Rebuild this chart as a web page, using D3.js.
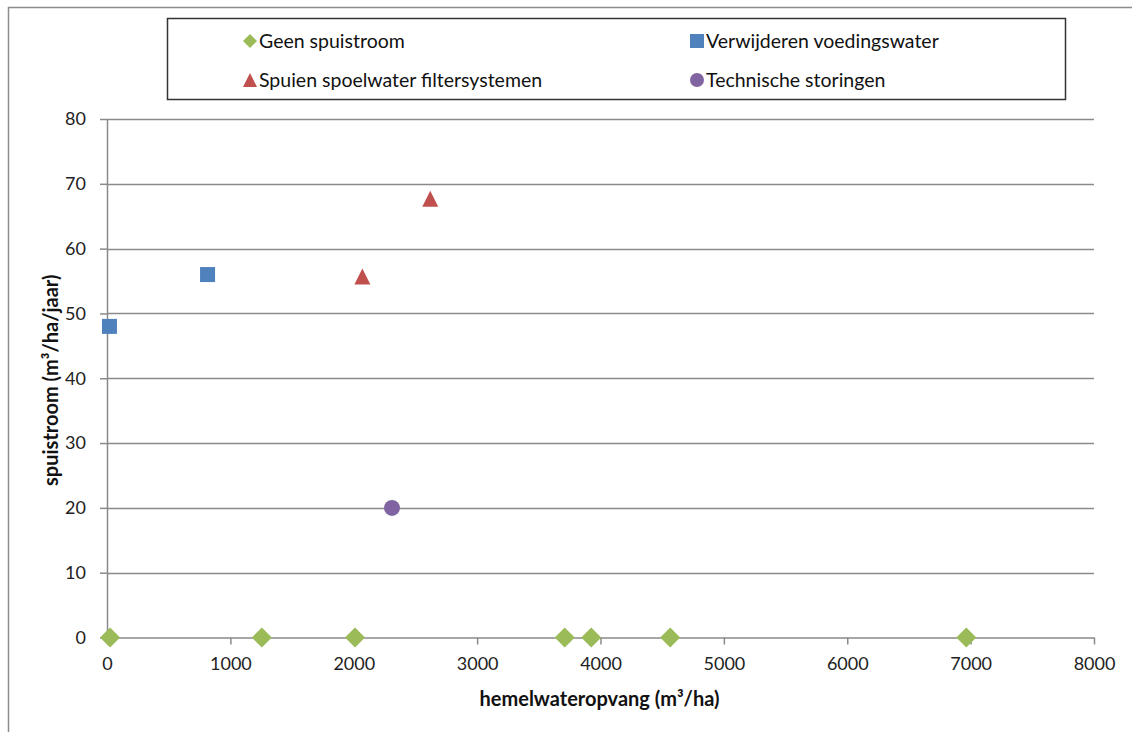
<!DOCTYPE html>
<html><head><meta charset="utf-8">
<script src="https://cdn.jsdelivr.net/npm/d3@7"></script>
<style>body{margin:0;background:#fff}svg{display:block}</style>
</head><body>
<svg id="c" width="1132" height="732"></svg>
<script>
const seriesNames = ["Geen spuistroom","Verwijderen voedingswater","Spuien spoelwater filtersystemen","Technische storingen"];
const seriesColors = ["#9BBB59","#4F81BD","#C0504D","#8064A2"];
const seriesShapes = ["diamond","square","triangle","circle"];
const geenX = [25,1255,2010,3710,3925,4565,6965];
const geenY = [0,0,0,0,0,0,0];
const verwX = [20,815];
const verwY = [48,56];
const spuiX = [2070,2620];
const spuiY = [55.7,67.7];
const techX = [2310];
const techY = [20];
const xTicks = [0,1000,2000,3000,4000,5000,6000,7000,8000];
const yTicks = [0,10,20,30,40,50,60,70,80];
const xTitle = "hemelwateropvang (m³/ha)";
const yTitle = "spuistroom (m³/ha/jaar)";

const series = [
  {x:geenX,y:geenY},{x:verwX,y:verwY},{x:spuiX,y:spuiY},{x:techX,y:techY}
];

const svg = d3.select("#c");
const font = "Lato, 'Open Sans', sans-serif";
const L=107,R=1094,T=119,B=637.5;
const x = d3.scaleLinear().domain([0,8000]).range([L,R]);
const y = d3.scaleLinear().domain([0,80]).range([B,T]);

// outer border
svg.append("path").attr("d","M8.5,732 V7.5 H1132").attr("fill","none").attr("stroke","#8c8c8c").attr("stroke-width",1.5);

// gridlines
svg.append("g").selectAll("line").data(yTicks.filter(d=>d>0)).join("line")
  .attr("x1",L).attr("x2",R).attr("y1",d=>Math.round(y(d))+0.5).attr("y2",d=>Math.round(y(d))+0.5)
  .attr("stroke","#8a8a8a").attr("stroke-width",1.5);

// y axis
const ya = svg.append("g").attr("transform",`translate(${L},0)`).call(d3.axisLeft(y).tickValues(yTicks).tickFormat(d3.format("d")).tickSize(7).tickPadding(14).tickSizeOuter(0));
ya.select(".domain").attr("stroke","#8a8a8a").attr("stroke-width",1.5);
ya.selectAll(".tick line").attr("stroke","#8a8a8a").attr("stroke-width",1.5);
ya.selectAll("text").attr("font-family",font).attr("font-size",18).attr("fill","#222");

// x axis
const xa = svg.append("g").attr("transform",`translate(0,${B})`).call(d3.axisBottom(x).tickValues(xTicks).tickFormat(d3.format("d")).tickSize(7).tickPadding(13).tickSizeOuter(0));
xa.select(".domain").attr("stroke","#8a8a8a").attr("stroke-width",1.5);
xa.selectAll(".tick line").attr("stroke","#8a8a8a").attr("stroke-width",1.5);
xa.selectAll("text").attr("font-family",font).attr("font-size",18).attr("fill","#222");

// titles
svg.append("text").attr("x",(L+R)/2-1).attr("y",706).attr("text-anchor","middle")
  .attr("font-family",font).attr("font-weight","bold").attr("font-size",20).attr("fill","#111").text(xTitle);
svg.append("text").attr("transform",`translate(58,${(T+B)/2+2}) rotate(-90)`).attr("text-anchor","middle")
  .attr("font-family",font).attr("font-weight","bold").attr("font-size",20).attr("fill","#111").text(yTitle);

function drawMarker(g, shape, color, cx, cy, h){
  let el;
  if(shape==="diamond"){
    el=g.append("path").attr("d",`M${cx},${cy-h} L${cx+h},${cy} L${cx},${cy+h} L${cx-h},${cy} Z`);
  } else if(shape==="square"){
    el=g.append("rect").attr("x",cx-h).attr("y",cy-h).attr("width",2*h).attr("height",2*h);
  } else if(shape==="triangle"){
    el=g.append("path").attr("d",`M${cx},${cy-h} L${cx+h},${cy+h} L${cx-h},${cy+h} Z`);
  } else {
    el=g.append("circle").attr("cx",cx).attr("cy",cy).attr("r",h);
  }
  el.attr("fill",color);
}
const markerSize = {diamond:10,square:7.5,triangle:8,circle:8};
const legendSize = {diamond:7,square:7,triangle:7,circle:7};
const mg = svg.append("g");
series.forEach((s,i)=>{
  s.x.forEach((xv,j)=>drawMarker(mg, seriesShapes[i], seriesColors[i], x(xv), y(s.y[j]), markerSize[seriesShapes[i]]));
});

// legend
svg.append("rect").attr("x",167.5).attr("y",18.5).attr("width",898).attr("height",81)
  .attr("fill","#fff").attr("stroke","#333").attr("stroke-width",1.5);
const legPos = [[250,41],[697,41],[250,80],[697,80]];
series.forEach((s,i)=>{
  const [lx,ly]=legPos[i];
  drawMarker(svg, seriesShapes[i], seriesColors[i], lx, ly, legendSize[seriesShapes[i]]);
  svg.append("text").attr("x",lx+9).attr("y",ly).attr("dy","0.35em")
    .attr("font-family",font).attr("font-size",19.5).attr("fill","#111").text(seriesNames[i]);
});
</script>
</body></html>
